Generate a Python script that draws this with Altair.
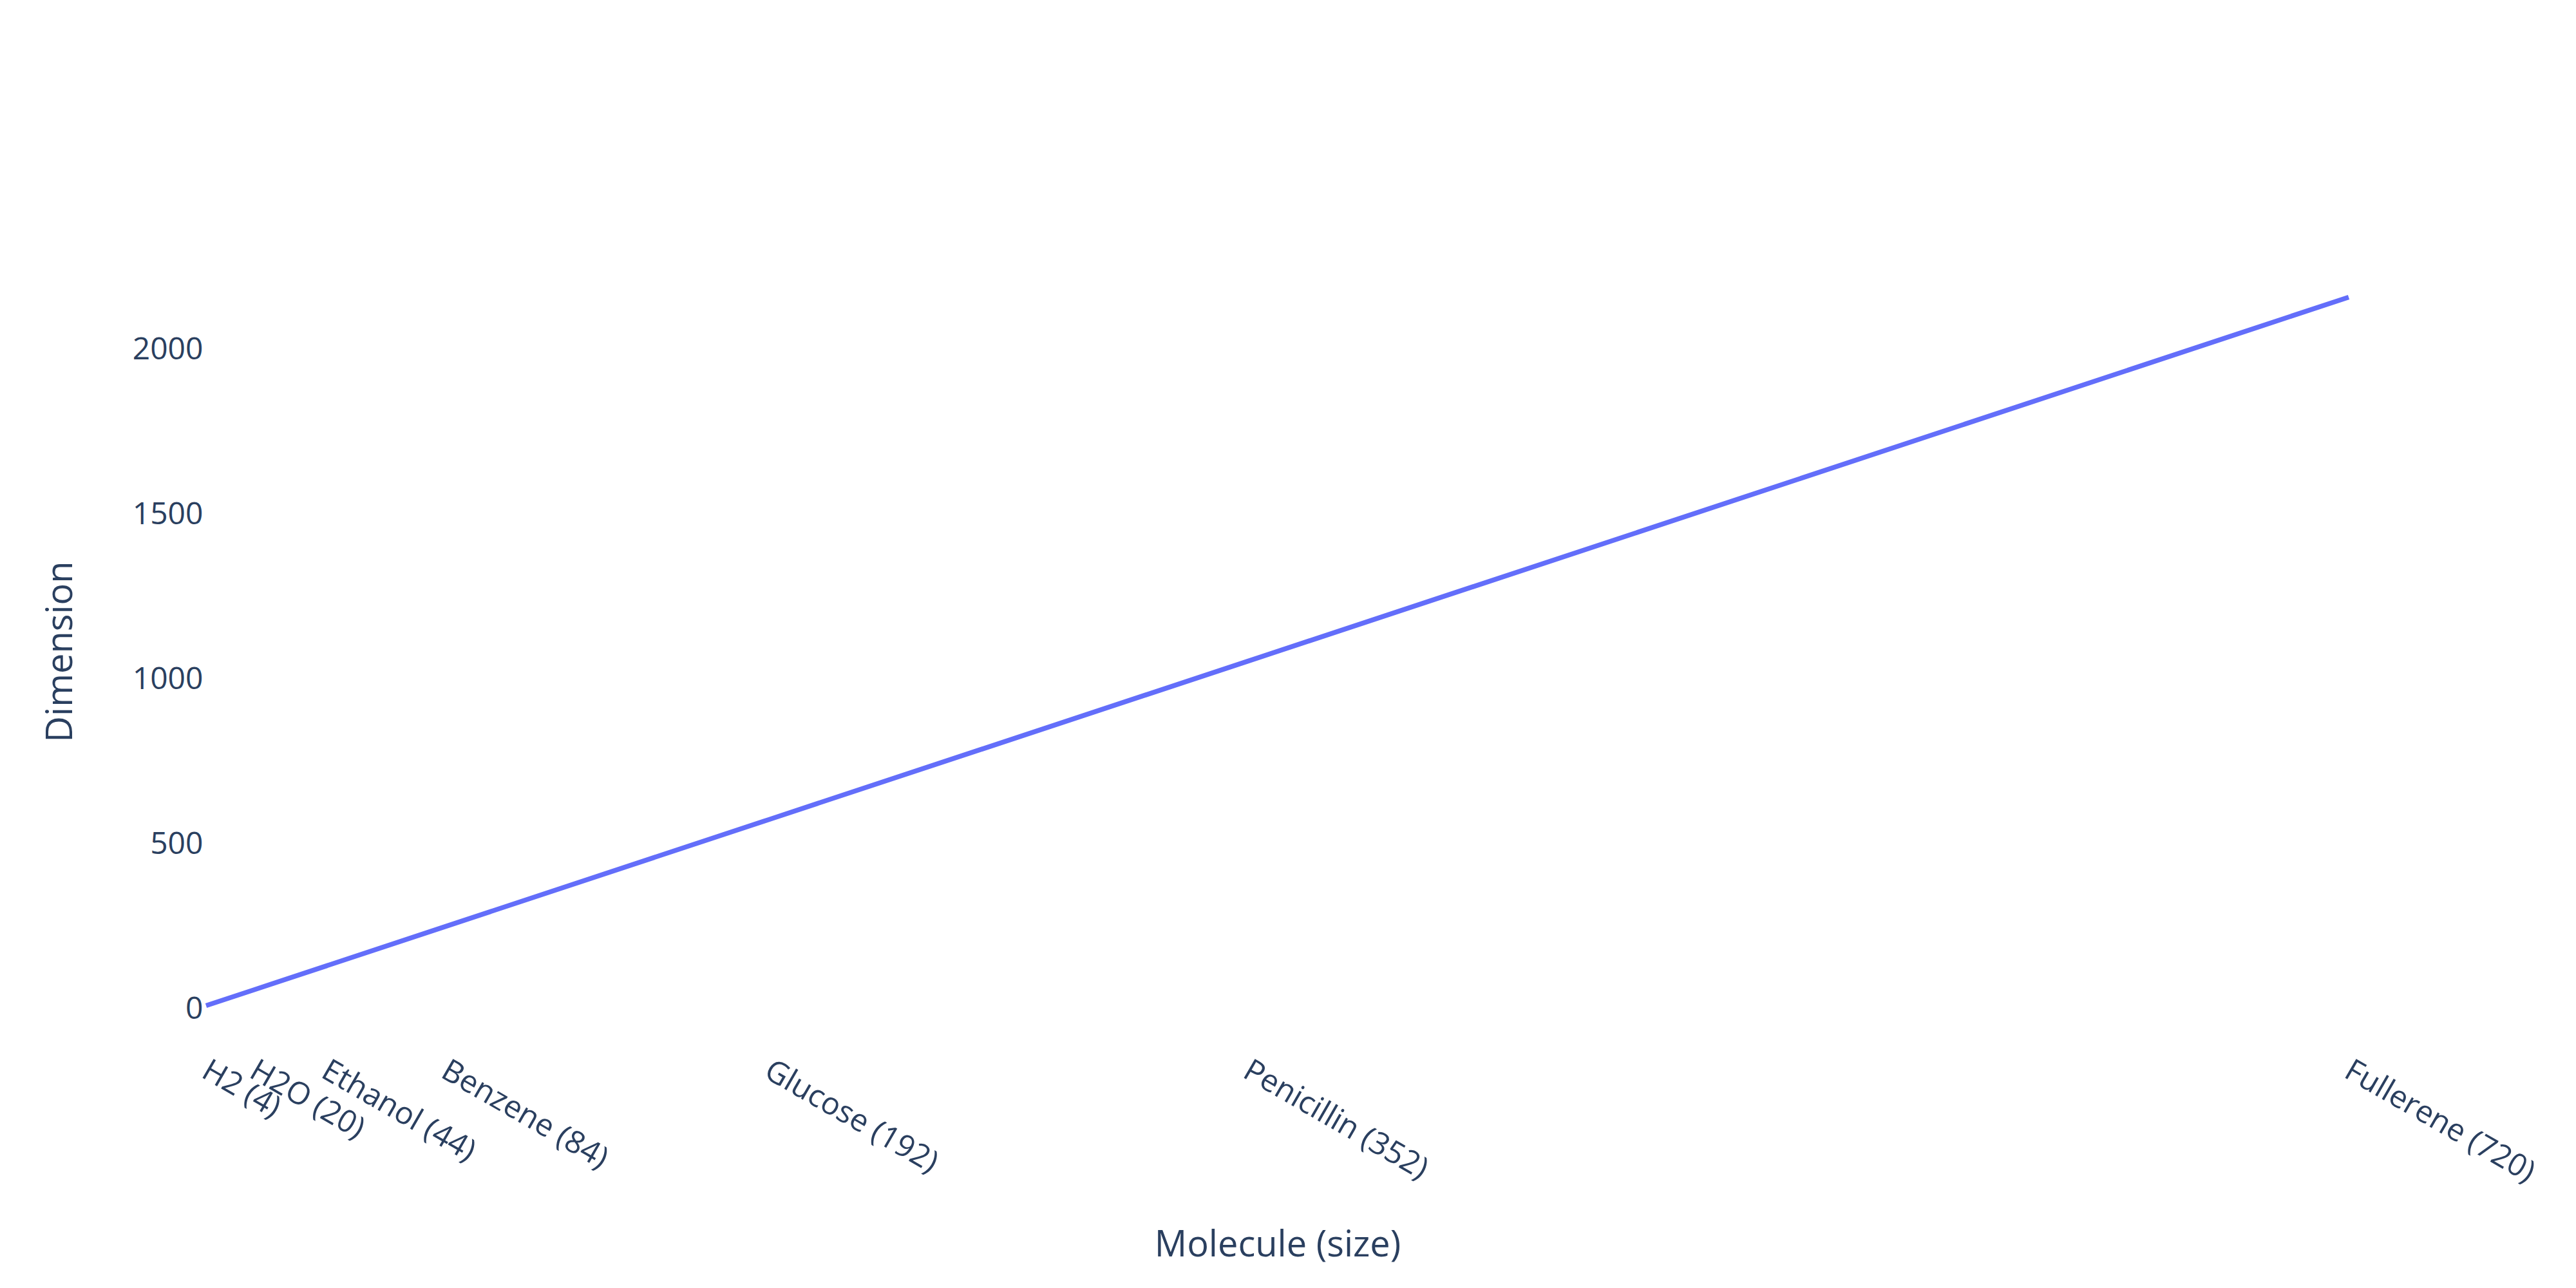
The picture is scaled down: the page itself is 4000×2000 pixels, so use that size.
import altair as alt
import pandas as pd

molecules = ["H2", "H2O", "Ethanol", "Benzene", "Glucose", "Penicillin", "Fullerene"]
sizes = [4, 20, 44, 84, 192, 352, 720]
dimensions = [12, 60, 132, 252, 576, 1056, 2160]
tick_labels = [f"{m} ({s})" for m, s in zip(molecules, sizes)]

df = pd.DataFrame({"size": sizes, "dimension": dimensions, "molecule": molecules})

label_map = "{" + ",".join(f"'{s}': '{t}'" for s, t in zip(sizes, tick_labels)) + "}"

TEXT = "#2a3f5f"
FONT = "Open Sans"

chart = alt.Chart(df).mark_line(color="#636efa", strokeWidth=7.5).encode(
    x=alt.X(
        "size:Q",
        scale=alt.Scale(domain=[4, 720], nice=False, zero=False),
        axis=alt.Axis(
            values=sizes,
            labelExpr=f"{label_map}[datum.value]",
            labelAngle=30,
            labelAlign="left",
            labelBaseline="top",
            labelPadding=15,
            labelOffset=9,
            labelLimit=0,
            labelFont=FONT,
            labelFontSize=48,
            labelColor=TEXT,
            labelOverlap=False,
            labelFlush=False,
            ticks=False,
            tickSize=0,
            domain=False,
            grid=False,
            title="Molecule (size)",
            titleFont=FONT,
            titleFontSize=56,
            titleFontWeight="normal",
            titleColor=TEXT,
            titleBaseline="alphabetic",
            titleY=327,
        ),
    ),
    y=alt.Y(
        "dimension:Q",
        scale=alt.Scale(domain=[-108, 2280], nice=False, zero=False),
        axis=alt.Axis(
            values=[0, 500, 1000, 1500, 2000],
            format="d",
            labelPadding=5,
            labelFont=FONT,
            labelFontSize=48,
            labelColor=TEXT,
            ticks=False,
            tickSize=0,
            domain=False,
            grid=False,
            title="Dimension",
            titleFont=FONT,
            titleFontSize=56,
            titleFontWeight="normal",
            titleColor=TEXT,
            titleAngle=270,
            titleAlign="center",
            titleBaseline="alphabetic",
            titleX=-209,
            titleY=611.5,
        ),
    ),
    order="size:Q",
).properties(
    width=3327,
    height=1223,
    autosize=alt.AutoSizeParams(type="none"),
    padding={"left": 312, "top": 392, "right": 345, "bottom": 375},
    background="white",
).configure_view(stroke=None)

chart.save("out.html", embed_options={"renderer": "svg", "actions": False})
